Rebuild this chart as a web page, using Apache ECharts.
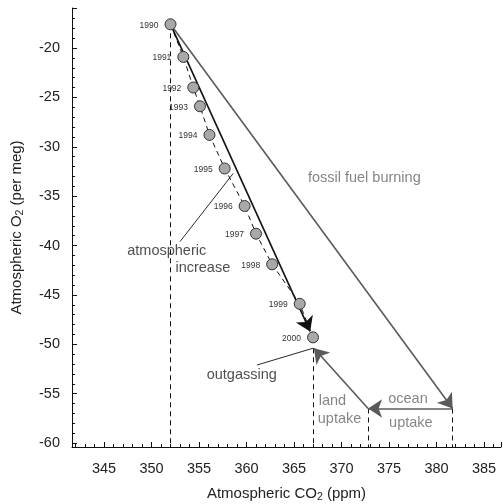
<!DOCTYPE html>
<html>
<head>
<meta charset="utf-8">
<script src="https://cdn.jsdelivr.net/npm/echarts@6/dist/echarts.min.js"></script>
<style>
html,body{margin:0;padding:0;background:#fff;}
#chart{width:503px;height:504px;}
</style>
</head>
<body>
<div id="chart"></div>
<script>
// ---- data ----
const years = ['1990','1991','1992','1993','1994','1995','1996','1997','1998','1999','2000'];
const co2 = [352.0, 353.35, 354.4, 355.1, 356.1, 357.7, 359.8, 361.0, 362.7, 365.6, 367.0];
const o2 = [-17.6, -20.9, -24.0, -25.9, -28.8, -32.2, -36.0, -38.8, -41.9, -45.9, -49.3];

const fossilArrow = [[352.0, -17.6], [381.7, -56.5]];
const oceanArrow = [[381.7, -56.5], [372.8, -56.5]];
const landArrow = [[372.8, -56.5], [367.1, -50.4]];
const atmArrow = [[352.0, -17.6], [366.7, -48.7]];
const dropTops = [[352.0, -17.6], [367.0, -50.4], [372.8, -56.5], [381.7, -56.5]];
const atmLeader = [[353.0, -39.6], [358.6, -32.7]];
const outLeader = [[361.1, -52.1], [367.0, -50.4]];

const noteText = ['fossil fuel burning', 'atmospheric', 'increase', 'outgassing', 'land', 'uptake', 'ocean', 'uptake'];
const noteX = [372.4, 351.6, 355.4, 359.5, 367.6, 367.5, 377.0, 377.3];
const noteY = [-33.2, -40.6, -42.3, -53.1, -55.75, -57.6, -55.5, -58.0];

const xMin = 341.63, xMax = 386.79;
const yMin = -60.4, yMax = -15.95;

// ---- chart ----
const FONT = '"Liberation Sans", Arial, Helvetica, sans-serif';
const GRAY = '#5a5a5a';
const noteColors = ['#666', '#222', '#222', '#222', '#666', '#666', '#666', '#666'];
const noteAlign = ['center', 'center', 'center', 'center', 'left', 'left', 'center', 'center'];

const chart = echarts.init(document.getElementById('chart'), null, {renderer: 'canvas'});

const dropData = dropTops.map(p => ({coords: [p, [p[0], yMin]]}));

const option = {
  animation: false,
  backgroundColor: '#fff',
  textStyle: {fontFamily: FONT},
  grid: {left: 72, right: 2, top: 8, bottom: 57, containLabel: false, outerBoundsMode: 'none'},
  xAxis: {
    type: 'value', min: xMin, max: xMax, splitNumber: 9,
    axisLine: {show: true, onZero: false, lineStyle: {color: '#111', width: 1}},
    axisTick: {show: true, inside: true, length: 5, lineStyle: {color: '#111'}},
    minorTick: {show: true, splitNumber: 5, length: 3, lineStyle: {color: '#111'}},
    splitLine: {show: false},
    axisLabel: {fontSize: 14.5, color: '#222', margin: 14, showMinLabel: false, showMaxLabel: false, fontFamily: FONT},
    name: '{t|Atmospheric CO}{s|2}{t| (ppm)}',
    nameLocation: 'middle', nameGap: 38,
    nameTextStyle: {
      fontFamily: FONT, color: '#222', fontSize: 15,
      rich: {t: {fontSize: 15, fontFamily: FONT, color: '#222'}, s: {fontSize: 10.5, fontFamily: FONT, color: '#222', padding: [7, 0, 0, 0]}}
    }
  },
  yAxis: {
    type: 'value', min: yMin, max: yMax, splitNumber: 9,
    axisLine: {show: true, onZero: false, lineStyle: {color: '#111', width: 1}},
    axisTick: {show: true, inside: true, length: 5, lineStyle: {color: '#111'}},
    minorTick: {show: true, splitNumber: 5, length: 3, lineStyle: {color: '#111'}},
    splitLine: {show: false},
    axisLabel: {fontSize: 14.5, color: '#222', margin: 12, showMinLabel: false, showMaxLabel: false, fontFamily: FONT},
    name: '{t|Atmospheric O}{s|2}{t| (per meg)}',
    nameLocation: 'middle', nameGap: 46, nameRotate: 90,
    nameTextStyle: {
      fontFamily: FONT, color: '#222', fontSize: 15,
      rich: {t: {fontSize: 15, fontFamily: FONT, color: '#222'}, s: {fontSize: 10.5, fontFamily: FONT, color: '#222', padding: [7, 0, 0, 0]}}
    }
  },
  series: [
    {
      type: 'lines', coordinateSystem: 'cartesian2d', polyline: false, z: 1,
      symbol: ['none', 'none'],
      lineStyle: {color: '#111', width: 1, type: [5, 4], opacity: 1},
      data: dropData
    },
    {
      type: 'line', z: 2, symbol: 'none',
      lineStyle: {color: '#111', width: 1, type: [5, 4]},
      data: co2.map((x, i) => [x, o2[i]])
    },
    {
      type: 'lines', coordinateSystem: 'cartesian2d', z: 3,
      symbol: ['none', 'arrow'], symbolSize: 14,
      lineStyle: {color: GRAY, width: 1.6, opacity: 1, curveness: 0},
      data: [{coords: fossilArrow}, {coords: oceanArrow}, {coords: landArrow}]
    },
    {
      type: 'lines', coordinateSystem: 'cartesian2d', z: 4,
      symbol: ['none', 'arrow'], symbolSize: 14,
      lineStyle: {color: '#111', width: 1.6, opacity: 1, curveness: 0},
      data: [{coords: atmArrow}]
    },
    {
      type: 'lines', coordinateSystem: 'cartesian2d', z: 3,
      symbol: ['none', 'none'],
      lineStyle: {color: '#111', width: 0.9, opacity: 1, curveness: 0},
      data: [{coords: atmLeader}, {coords: outLeader}]
    },
    {
      type: 'scatter', z: 6, symbol: 'circle', symbolSize: 11,
      itemStyle: {color: '#a8a8a8', borderColor: '#333', borderWidth: 1, opacity: 1},
      label: {
        show: true, position: 'left', distance: 6, offset: [0, 1],
        fontSize: 8.5, color: '#333', fontFamily: FONT,
        formatter: p => years[p.dataIndex]
      },
      data: co2.map((x, i) => [x, o2[i]])
    },
    {
      type: 'scatter', z: 7, symbolSize: 1, silent: true,
      itemStyle: {color: 'rgba(0,0,0,0)'},
      data: noteX.map((x, i) => ({
        value: [x, noteY[i]],
        label: {
          show: true, position: 'inside', formatter: noteText[i],
          color: noteColors[i], fontSize: 14.5, fontFamily: FONT,
          align: noteAlign[i], verticalAlign: 'middle'
        }
      }))
    }
  ]
};
chart.setOption(option);
</script>
</body>
</html>
